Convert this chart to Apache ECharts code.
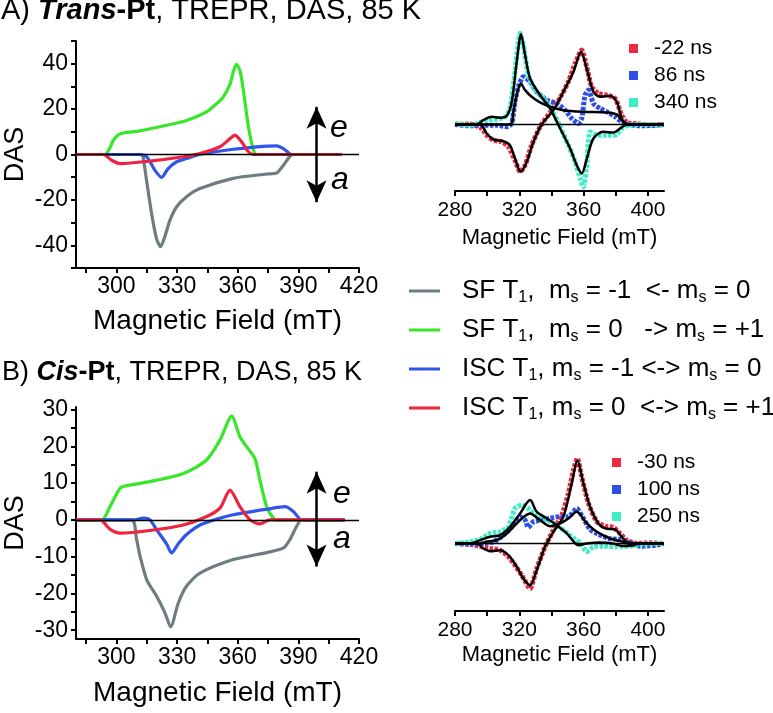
<!DOCTYPE html>
<html><head><meta charset="utf-8">
<script src="https://cdn.jsdelivr.net/npm/echarts@6/dist/echarts.min.js"></script>
<style>html,body{margin:0;padding:0;background:#fff}#c{width:773px;height:713px}</style>
</head><body><div id="c"></div>
<script>
// ---------- Data ----------
// A) Trans-Pt DAS
const tlGreyX  = [280,312.5,313.5,314.9,317.4,319.8,321.8,324,326.5,329.8,334.7,341.3,357.8,374.3,379.3,382.6,385.9,387.5,411.4];
const tlGreyY  = [0,0,-3,-11.3,-26,-37,-40.6,-36,-28.9,-23,-18.6,-15,-10.5,-8.6,-8.1,-4.7,-0.7,0,0];
const tlGreenX = [280,294.3,296.5,298.5,301,304,311.6,324.9,334.7,344.6,349.6,352.8,356.2,357.8,359.3,361.1,362.8,365.3,367.8,369.4,411.4];
const tlGreenY = [0,0,2.5,6.3,8.7,9.6,10.4,12.9,15,18.8,22.4,25.3,31,36.3,39.7,37,28.3,12.2,1.9,0,0];
const tlBlueX  = [280,310.8,314.9,319,322.3,325.6,329.8,334.7,341.3,357.8,374.3,379.3,382.6,386.7,411.4];
const tlBlueY  = [0,0,-1,-6.9,-10.1,-6.2,-3.2,-1.8,0,2.3,3.7,3.8,2.6,0,0];
const tlRedX   = [280,293.5,297.6,301.8,316.6,333.1,341.3,351.2,356.2,358.6,361.9,365.3,367.7,411.4];
const tlRedY   = [0,0,-2.5,-4,-2.9,-1,0.4,3.4,7,8.5,5.6,1.2,0,0];
// B) Cis-Pt DAS
const blGreyX  = [280,307.5,310,311.7,315,319.9,324,326.8,330.6,334.7,341.3,357.8,374.3,382.5,385.8,389.1,391.6,413];
const blGreyY  = [0,0,-5.4,-9.9,-16.3,-20.8,-25.3,-29.1,-22.6,-18,-14.5,-10.8,-8.9,-7.7,-5.4,-1.8,0,0];
const blGreenX = [280,292.7,296.8,301.8,305.1,316.6,333.1,344.6,351.2,357,361.1,364.4,368.5,371,374.3,377.6,379.2,413];
const blGreenY = [0,0,3.6,8.6,9.3,10.4,12.6,16.3,21.7,28.2,22.6,19.9,16.7,10.8,3.6,0.5,0,0];
const blBlueX  = [280,308.4,313.3,316.6,319.9,324.8,327.3,330.6,334.7,341.3,349.6,357.8,374.3,383.4,387.5,390.8,392.4,413];
const blBlueY  = [0,0,0.5,0,-2.7,-6.5,-9,-6.5,-4,-1.4,0.2,1.4,2.9,3.6,2.3,0.2,0,0];
const blRedX   = [280,291.9,296.8,301.8,316.6,333.1,344.6,351.2,356.2,361.1,366.1,371,375.9,413];
const blRedY   = [0,0,-2.5,-3.6,-2.9,-1.4,0.9,3.2,8.1,3.6,0,-1.1,0,0];
// Trans-Pt spectra (points) and fits
const trRedPtX  = [280,289.3,296.6,299.7,303.9,309,313.2,317.3,320.5,323.6,327.7,332.9,339.1,345.4,350.5,354.7,358.8,361.9,365,369.2,374.4,379.6,383.7,386.8,393.1,401.4,409.7];
const trRedPtY  = [0,0.5,-4,-10.7,-15.7,-17.3,-22.3,-35.7,-47.3,-40.7,-20.7,-2.3,12,26.7,42.7,61,74.3,57.7,37.7,31,29.3,26,9.3,2,0.7,-0.7,0];
const trBluePtX = [280,289.3,297.6,305.9,312.2,315.3,317.3,319.4,322.5,326.7,330.8,337.1,343.3,348.5,352.6,356.8,358.8,360.9,363,366.1,370.2,374.4,379.6,383.7,387.9,397.2,405.5,409.7];
const trBluePtY = [0,-1.3,-0.7,-0.7,-2.3,1,22.7,37.7,47.7,42.7,32.7,24.3,21,14.3,6,1,6,29.3,34.3,21,16,12.7,7.7,2.7,0,-1.3,-0.7,0];
const trCyanPtX = [280,289.3,295.6,299.7,305.9,311.1,314.2,317.3,320.5,322.5,325.6,329.8,335,340.2,345.4,350.5,354.7,357.8,359.9,361.9,364,368.2,374.4,379.6,383.7,387.9,397.2,409.7];
const trCyanPtY = [1,-0.7,2,4.3,5.3,7.7,16,52.7,91,79.3,49.3,34.3,26,14.3,-2.3,-20.7,-37.3,-54,-62.3,-40.7,-7.3,-10.7,-10.7,-10.7,-4,-0.7,0,-0.7];
const trFitRedX  = [280,295.6,299.7,303.9,310.1,314.2,317.3,320.9,324.6,328.8,333.9,341.2,347.4,353.7,358.4,361.9,366.1,370.2,376.5,380.6,383.7,385.8,388.9,410];
const trFitRedY  = [0,0,-9,-15,-16.7,-20.7,-34,-47.3,-37.3,-17.3,0,14.3,32.7,52.7,72.7,56,32.7,27.7,28.7,22.7,6,1,0,0];
const trFitBlueX = [280,314.2,316.3,318.4,320.9,323.6,327.7,332.9,339.1,347.4,359.9,374.4,380.6,383.7,386.8,388.9,410];
const trFitBlueY = [0,0,12.7,29.3,41,34.3,27.7,22,17.7,14.3,12.7,12,10,4.3,0.7,0,0];
const trFitCyanX = [280,293.5,297.6,302.8,308,312.2,315.3,318.4,321.1,323.6,326.7,332.9,339.1,345.4,351.6,355.7,358.8,362,366.1,372.3,378.5,382.7,385.8,388.9,410];
const trFitCyanY = [0,0,4.3,7.7,6.7,8.7,22.7,62.7,90,69.3,46,29.3,16,-4,-24,-40.7,-49,-34,-14,-7.3,-8,-4,-0.7,0,0];
// Cis-Pt spectra (points) and fits
const brRedPtX  = [280,289.3,296.6,301.8,308,313.2,317.3,321.5,326.7,330.8,336,341.2,346.4,350.5,353.7,356.1,358.8,363,368.2,373.4,378.5,382.7,386.8,393.1,401.4,409.7];
const brRedPtY  = [0,-0.7,-3.3,-5,-6.7,-13.3,-21.7,-31.7,-45,-25,-3.3,13.3,28.3,50,73.3,85,66.7,40,21.7,17.3,16,10,3.3,0,0.7,0];
const brBluePtX = [280,289.3,297.6,303.9,310.1,316.3,320.5,323.6,325.6,328.8,334,339.1,344.3,350.5,355.7,359.9,364,369.2,375.4,382.7,386.8,395.2,405.5,409.7];
const brBluePtY = [0,-0.7,0,1.7,8.3,18.3,26.7,23.3,16,21.7,23.3,25,26.7,26.7,35,25,14,9.3,5,4,1.7,-2.7,-1.7,0];
const brCyanPtX = [280,289.3,295.6,301.8,308,313.2,317.3,321.5,325.6,329.8,335,341.2,347.4,352.6,357.8,361.9,366.1,372.3,380.6,388.9,397.2,409.7];
const brCyanPtY = [0,1.7,4,10,11.7,16.7,35,38.3,35,28.3,25,20,13.3,6.7,0.7,-8.3,-3.3,-2.7,-3.3,-2.7,-0.7,0];
const brFitRedX  = [280,293.5,297.6,301.8,308,313.2,318.4,322.5,326.7,330.8,336,341.2,347.4,352.6,356.1,359.9,364,369.2,373.4,379.6,383.7,388.9,393.1,410];
const brFitRedY  = [0,0,-5,-7.7,-6.7,-11.7,-23.3,-35,-41.7,-26.7,-3.3,11.7,26.7,60,82.7,60,36.7,20,15,14,6.7,-0.7,0,0];
const brFitBlueX = [280,295.6,299.7,305.9,312.2,318.4,326.7,332.9,339.1,345.4,350.5,355.7,362,368.2,376.5,384.8,393.1,410];
const brFitBlueY = [0,0,1.7,3.3,10,20,30,23.3,17.3,20,25,31.7,20,11.7,5,1.7,0,0];
const brFitCyanX = [280,289.3,295.6,301.8,308,314.2,320.5,326.7,330.8,337.1,343.3,349.6,356.8,362,370,378,384,390,395,410];
const brFitCyanY = [0,0,3.3,6.7,8.3,16.7,30,43.3,31.7,25,18.3,10,-1.7,0,1,0,-2.5,-2,0,0];
// tick / label values
const dasXTicks  = [285,300,315,330,345,360,375,390,405,420];
const dasXLabels = [300,330,360,390,420];
const tlYTicks   = [-50,-40,-30,-20,-10,0,10,20,30,40,50];
const tlYLabels  = [-40,-20,0,20,40];
const blYTicks   = [-30,-25,-20,-15,-10,-5,0,5,10,15,20,25,30];
const blYLabels  = [-30,-20,-10,0,10,20,30];
const specXTicks  = [280,300,320,340,360,380,400];
const specXLabels = [280,320,360,400];
const dasNames = ['SFm1','SF0','ISCm1','ISC0'];
const dasLegendText = {
  SFm1:  'SF T{s|1},  m{s|s} = -1  <- m{s|s} = 0',
  SF0:   'SF T{s|1},  m{s|s} = 0   -> m{s|s} = +1',
  ISCm1: 'ISC T{s|1}, m{s|s} = -1 <-> m{s|s} = 0',
  ISC0:  'ISC T{s|1}, m{s|s} = 0  <-> m{s|s} = +1'
};
const trNames = ['-22 ns','86 ns','340 ns'];
const brNames = ['-30 ns','100 ns','250 ns'];

// ---------- Styles ----------
const FONT = 'Liberation Sans, Arial, sans-serif';
const C = {grey:'#6f7c80', green:'#38e62a', blue:'#2f55ea', red:'#ef2340',
           pRed:'#ee2a40', pBlue:'#2d4fe6', pCyan:'#3cefc6'};
const pts = (xs, ys) => xs.map((x, i) => [x, ys[i]]);

function dasX(gi, nameGap){
  return {gridIndex:gi, type:'value', min:280, max:420,
    axisLine:{onZero:false, lineStyle:{color:'#000', width:2}},
    axisTick:{customValues:dasXTicks, length:5, lineStyle:{color:'#000', width:2}},
    axisLabel:{customValues:dasXLabels, fontSize:23, color:'#000', margin:7, fontFamily:FONT},
    splitLine:{show:false},
    name:'Magnetic Field (mT)', nameLocation:'middle', nameGap:nameGap,
    nameTextStyle:{fontSize:28, color:'#000', fontFamily:FONT}};
}
function dasY(gi, min, max, ticks, labels){
  return {gridIndex:gi, type:'value', min:min, max:max,
    axisLine:{show:true, onZero:false, lineStyle:{color:'#000', width:2}},
    axisTick:{customValues:ticks, length:5, lineStyle:{color:'#000', width:2}},
    axisLabel:{customValues:labels, fontSize:23, color:'#000', margin:8, fontFamily:FONT},
    splitLine:{show:false},
    name:'DAS', nameLocation:'middle', nameGap:47, nameRotate:90,
    nameTextStyle:{fontSize:27, color:'#000', fontFamily:FONT}};
}
function specX(gi, nameGap){
  return {gridIndex:gi, type:'value', min:280, max:410,
    axisLine:{onZero:false, lineStyle:{color:'#000', width:2}},
    axisTick:{customValues:specXTicks, length:5, lineStyle:{color:'#000', width:2}},
    axisLabel:{customValues:specXLabels, fontSize:21, color:'#000', margin:9, fontFamily:FONT},
    splitLine:{show:false},
    name:'Magnetic Field (mT)', nameLocation:'middle', nameGap:nameGap,
    nameTextStyle:{fontSize:22, color:'#000', fontFamily:FONT}};
}
function specY(gi, min, max){
  return {gridIndex:gi, type:'value', min:min, max:max, show:false, splitLine:{show:false}};
}
const zeroLine = {silent:true, symbol:'none', animation:false, label:{show:false},
  lineStyle:{color:'#000', width:1.3, type:'solid'}, emphasis:{disabled:true}, data:[{yAxis:0}]};

function dasLine(name, gi, xs, ys, color, extra){
  return Object.assign({type:'line', name:name, xAxisIndex:gi, yAxisIndex:gi,
    data:pts(xs, ys), showSymbol:false, smooth:0.25, color:color,
    lineStyle:{width:3.2, color:color}, z:3, animation:false}, extra||{});
}
function ptLine(name, gi, xs, ys, color){
  return {type:'line', name:name, xAxisIndex:gi, yAxisIndex:gi, data:pts(xs, ys),
    showSymbol:false, smooth:0.2, color:color, animation:false, z:2,
    lineStyle:{width:5, color:color, type:[3.5,1.5], cap:'butt'}};
}
function fitLine(gi, xs, ys){
  return {type:'line', xAxisIndex:gi, yAxisIndex:gi, data:pts(xs, ys),
    showSymbol:false, smooth:0.3, color:'#000', animation:false, z:4,
    lineStyle:{width:2.5, color:'#000'}};
}
function arrow(y1, y2){
  return {silent:true, animation:false, symbol:['arrow','arrow'], symbolSize:[15,22],
    label:{show:false}, emphasis:{disabled:true},
    lineStyle:{color:'#000', width:2.5, type:'solid'},
    data:[[{coord:[399, y1]}, {coord:[399, y2]}]]};
}

function titleRich(fs){
  return {
    n:{fontSize:fs, color:'#000', fontWeight:'normal', fontFamily:FONT},
    bi:{fontSize:fs, color:'#000', fontWeight:'bold', fontStyle:'italic', fontFamily:FONT},
    b:{fontSize:fs, color:'#000', fontWeight:'bold', fontFamily:FONT}
  };
}

const option = {
  backgroundColor:'#fff',
  animation:false,
  title:[
    {text:'{n|A) }{bi|Trans}{b|-Pt}{n|, TREPR, DAS, 85 K}', left:1, top:-4, padding:0,
     textStyle:{fontWeight:'normal', rich:titleRich(29)}},
    {text:'{n|B) }{bi|Cis}{b|-Pt}{n|, TREPR, DAS, 85 K}', left:2, top:359, padding:0,
     textStyle:{fontWeight:'normal', rich:titleRich(27)}}
  ],
  grid:[
    {left:76, top:41, width:283, height:227},
    {left:455, top:30, width:209, height:161},
    {left:76, top:407, width:283, height:232},
    {left:455, top:450, width:209, height:161}
  ],
  xAxis:[dasX(0,39), specX(1,36), dasX(2,40), specX(3,33)],
  yAxis:[dasY(0,-50,50,tlYTicks,tlYLabels), specY(1,-66.4,94.3),
         dasY(2,-32.4,30.7,blYTicks,blYLabels), specY(3,-67.4,93.3)],
  legend:[
    {data:dasNames, orient:'vertical', left:404, top:273, itemGap:11,
     icon:'rect', itemWidth:31, itemHeight:3,
     formatter:n => dasLegendText[n],
     textStyle:{fontSize:26, color:'#000', fontFamily:FONT, padding:[0,0,0,17],
       rich:{s:{fontSize:16, color:'#000', fontFamily:FONT, padding:[14,0,0,0]}}}},
    {data:trNames, orient:'vertical', left:624, top:33, itemGap:6,
     icon:'rect', itemWidth:9, itemHeight:9,
     textStyle:{fontSize:21, color:'#000', fontFamily:FONT, padding:[0,0,0,11]}},
    {data:brNames, orient:'vertical', left:607, top:447, itemGap:6,
     icon:'rect', itemWidth:9, itemHeight:9,
     textStyle:{fontSize:21, color:'#000', fontFamily:FONT, padding:[0,0,0,11]}}
  ],
  graphic:[
    {type:'text', left:330, top:112, style:{text:'e', font:'italic 32px '+FONT, fill:'#000'}},
    {type:'text', left:331, top:164, style:{text:'a', font:'italic 32px '+FONT, fill:'#000'}},
    {type:'text', left:333, top:478, style:{text:'e', font:'italic 32px '+FONT, fill:'#000'}},
    {type:'text', left:333, top:523, style:{text:'a', font:'italic 32px '+FONT, fill:'#000'}}
  ],
  series:[
    dasLine(dasNames[0], 0, tlGreyX, tlGreyY, C.grey, {markLine:zeroLine}),
    dasLine(dasNames[1], 0, tlGreenX, tlGreenY, C.green),
    dasLine(dasNames[2], 0, tlBlueX, tlBlueY, C.blue, {markLine:arrow(21,-21)}),
    dasLine(dasNames[3], 0, tlRedX, tlRedY, C.red),
    dasLine(dasNames[0], 2, blGreyX, blGreyY, C.grey, {markLine:zeroLine}),
    dasLine(dasNames[1], 2, blGreenX, blGreenY, C.green),
    dasLine(dasNames[2], 2, blBlueX, blBlueY, C.blue, {markLine:arrow(13.1,-12.7)}),
    dasLine(dasNames[3], 2, blRedX, blRedY, C.red),
    Object.assign(ptLine(trNames[0], 1, trRedPtX, trRedPtY, C.pRed), {markLine:zeroLine}),
    ptLine(trNames[1], 1, trBluePtX, trBluePtY, C.pBlue),
    ptLine(trNames[2], 1, trCyanPtX, trCyanPtY, C.pCyan),
    fitLine(1, trFitRedX, trFitRedY),
    fitLine(1, trFitBlueX, trFitBlueY),
    fitLine(1, trFitCyanX, trFitCyanY),
    Object.assign(ptLine(brNames[0], 3, brRedPtX, brRedPtY, C.pRed), {markLine:zeroLine}),
    ptLine(brNames[1], 3, brBluePtX, brBluePtY, C.pBlue),
    ptLine(brNames[2], 3, brCyanPtX, brCyanPtY, C.pCyan),
    fitLine(3, brFitRedX, brFitRedY),
    fitLine(3, brFitBlueX, brFitBlueY),
    fitLine(3, brFitCyanX, brFitCyanY)
  ]
};
const chart = echarts.init(document.getElementById('c'), null, {renderer:'canvas'});
chart.setOption(option);
</script>
</body></html>
